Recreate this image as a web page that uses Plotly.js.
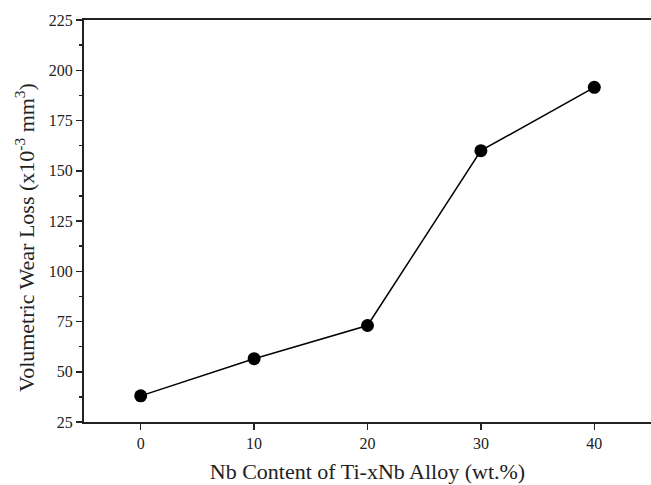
<!DOCTYPE html>
<html>
<head>
<meta charset="utf-8">
<script src="https://cdn.plot.ly/plotly-3.0.1.min.js"></script>
<style>html,body{margin:0;padding:0;background:#fff;}</style>
</head>
<body>
<div id="chart" style="width:651px;height:485px;"></div>
<script>
const nbContent = [0, 10, 20, 30, 40];
const wearLoss = [38, 56.5, 73, 160, 191.5];
const yTicks = [25, 50, 75, 100, 125, 150, 175, 200, 225];
const xTicks = [0, 10, 20, 30, 40];
const xTitle = 'Nb Content of Ti-xNb Alloy (wt.%)';
const yTitle = 'Volumetric Wear Loss (x10<sup>-3</sup> mm<sup>3</sup>)';

const trace = {
  x: nbContent,
  y: wearLoss,
  mode: 'lines+markers',
  type: 'scatter',
  line: {color: '#000', width: 1.5},
  marker: {color: '#000', size: 13},
  showlegend: false
};

const layout = {
  width: 651, height: 485,
  margin: {l: 84, r: 0, t: 20, b: 63},
  paper_bgcolor: '#fff', plot_bgcolor: '#fff',
  font: {family: 'Liberation Serif, Times New Roman, serif', color: '#222'},
  xaxis: {
    range: [-5, 45],
    tickvals: xTicks,
    ticks: 'outside', ticklen: 6, tickwidth: 1.5, tickcolor: '#222',
    showline: true, linecolor: '#222', linewidth: 2, mirror: true,
    showgrid: false, zeroline: false,
    tickfont: {size: 16, family: 'Liberation Serif, serif', color: '#222'},
    title: {text: xTitle, font: {size: 22, family: 'Liberation Serif, serif', color: '#222'}, standoff: 12}
  },
  yaxis: {
    range: [25, 225],
    tickvals: yTicks,
    ticks: 'outside', ticklen: 6, tickwidth: 1.5, tickcolor: '#222',
    minor: {dtick: 12.5, ticks: 'outside', ticklen: 3, tickwidth: 1.5, tickcolor: '#222', showgrid: false},
    showline: true, linecolor: '#222', linewidth: 2, mirror: true,
    showgrid: false, zeroline: false,
    tickfont: {size: 16, family: 'Liberation Serif, serif', color: '#222'}
  },
  annotations: [{
    text: yTitle,
    textangle: -90,
    xref: 'paper', yref: 'paper',
    x: -0.104, y: 0.458,
    xanchor: 'center', yanchor: 'middle',
    showarrow: false,
    font: {size: 22, family: 'Liberation Serif, serif', color: '#222'}
  }]
};

Plotly.newPlot('chart', [trace], layout, {displayModeBar: false, staticPlot: true});
</script>
</body>
</html>
